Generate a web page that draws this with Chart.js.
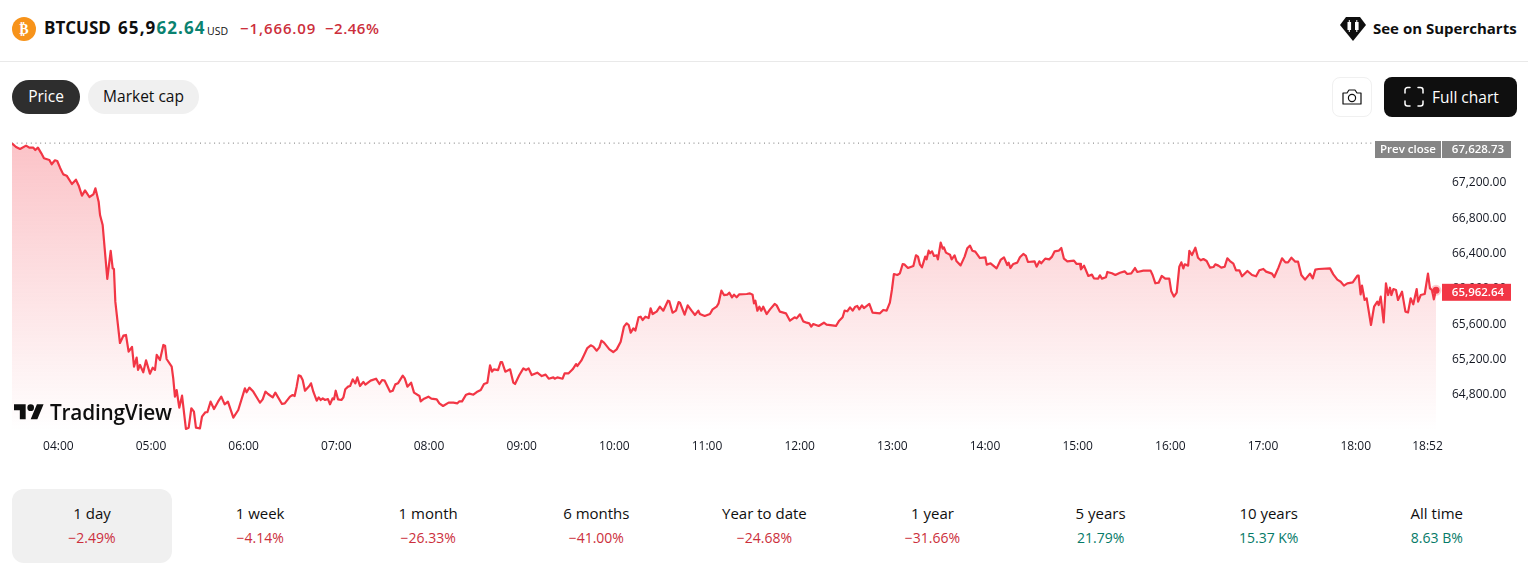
<!DOCTYPE html>
<html><head><meta charset="utf-8"><title>BTCUSD</title>
<script src="https://cdn.jsdelivr.net/npm/chart.js@4"></script>
<style>
html,body{margin:0;padding:0;background:#fff;width:1528px;height:579px;overflow:hidden;font-family:"Open Sans","Noto Sans",sans-serif;color:#0f0f0f}
.a{position:absolute;white-space:nowrap}
canvas{position:absolute;left:0;top:130px}
.tab{position:absolute;top:489px;width:160px;height:74px;border-radius:12px;text-align:center}
.tab .n{position:absolute;left:0;right:0;top:14px;font-size:15px;line-height:20px}
.tab .p{position:absolute;left:0;right:0;top:39px;font-size:14px;line-height:19px}
.r{color:#cc2f3c}.g{color:#067a68}
</style></head><body>
<svg class="a" style="left:12px;top:17px" width="24" height="24"><circle cx="12" cy="12" r="12" fill="#f7931a"/><text x="12" y="17" text-anchor="middle" fill="#fff" font-size="14" font-weight="700" font-family="DejaVu Sans">₿</text></svg>
<div class="a" style="left:44px;top:16px;font-size:17px;line-height:24px;font-weight:700">BTCUSD</div>
<div class="a" style="left:118px;top:16px;font-size:17px;line-height:24px;font-weight:700;letter-spacing:1.1px">65,9<span style="color:#0a8270">62.64</span></div>
<div class="a" style="left:207px;top:23px;font-size:10.5px;line-height:16px">USD</div>
<div class="a r" style="left:240px;top:17px;font-size:15px;line-height:22px;font-weight:600;letter-spacing:.9px">−1,666.09</div>
<div class="a r" style="left:325px;top:17px;font-size:15px;line-height:22px;font-weight:600;letter-spacing:.5px">−2.46%</div>
<svg class="a" style="left:1340px;top:17px" width="26" height="24" viewBox="0 0 26 24"><path d="M6 0h14l6 8-13 16L0 8z" fill="#0f0f0f"/><path d="M7.500 5h1.300V3h1v2h1.300v8H9.800v2h-1v-2H7.500zM15 5h1.300V3h1v2h1.300v8h-1.300v2h-1v-2H15z" fill="#fff"/></svg>
<div class="a" style="left:1373px;top:16px;font-size:15px;line-height:24px;font-weight:700">See on Supercharts</div>
<div class="a" style="left:0;top:61px;width:1528px;height:1px;background:#e9e9e9"></div>
<div class="a" style="left:12px;top:80px;width:68px;height:34px;border-radius:17px;background:#2e2e2e;color:#fff;font-size:15.5px;line-height:33px;text-align:center">Price</div>
<div class="a" style="left:88px;top:80px;width:111px;height:34px;border-radius:17px;background:#f0f0f0;font-size:15.5px;line-height:33px;text-align:center">Market cap</div>
<div class="a" style="left:1332px;top:77px;width:38px;height:38px;border:1px solid #f0f0f0;border-radius:8px"></div>
<svg class="a" style="left:1341px;top:87px" width="22" height="20" fill="none" stroke="#0f0f0f" stroke-width="1.2"><path d="M2 6h4l2-3h6l2 3h4v11H2z" stroke-linejoin="round"/><circle cx="11" cy="11" r="3.6"/></svg>
<div class="a" style="left:1384px;top:77px;width:133px;height:40px;border-radius:8px;background:#0f0f0f"></div>
<svg class="a" style="left:1403px;top:86px" width="22" height="22" fill="none" stroke="#fff" stroke-width="1.5" stroke-linecap="round"><path d="M2 7V4a2.500 2.500 0 0 1 2.500-2.500H7M15 1.500h2.500A2.500 2.500 0 0 1 20 4v3M20 15v2.500a2.500 2.500 0 0 1-2.500 2.500H15M7 20H4.500A2.500 2.500 0 0 1 2 17.500V15"/></svg>
<div class="a" style="left:1432px;top:85px;color:#fff;font-size:15.5px;line-height:24px">Full chart</div>
<canvas id="c" width="1528" height="330"></canvas>
<svg class="a" style="left:14px;top:400.700px" width="30" height="22" viewBox="0 0 36 26.400"><path d="M14 22H7V11H0V4h14v18zM28 22h-8l7.500-18h8L28 22z" fill="#0f0f0f"/><circle cx="20" cy="8" r="4" fill="#0f0f0f"/></svg>
<div class="a" style="left:50px;top:398px;font-size:20.800px;line-height:28px;font-weight:600;letter-spacing:-.2px;color:#0f0f0f">TradingView</div>
<div id="tabs"></div>
<script>
const times=[210,212.6,215.2,219.1,221.2,223.8,225.1,226.8,229,230.7,234.2,235.7,237.8,239.3,241.1,243.2,245.4,248.8,251.4,253.2,255.3,257.3,260.1,262.7,264,266.1,267,268.7,270,271.7,273.9,275.2,276,276.9,279.9,282.1,283.8,285.5,287.7,289,290.7,291.6,292.9,295,296.8,299.3,301.1,302.6,303.7,305.8,308,309.1,310.1,313.4,314.4,315.5,316.6,318.3,320.1,322.6,324.4,326.1,327.8,329.1,331.7,333,335.2,336.5,338.6,340.8,343.4,345.5,347.7,349.8,353.3,356.5,360.8,361.9,363.7,366.2,369.5,
370.6,372.3,374.1,375.8,378.8,380.5,384.8,386.6,390,391.7,393,394.3,395.6,396.9,398.2,399.7,402.5,403.6,405.1,407.3,408.6,409.9,411.2,412.7,414.6,415.9,417.6,418.5,419.6,421.1,423.3,424.6,425.8,427.6,428.9,430.6,432.3,433.6,435.3,437.5,438.8,442.2,445.7,447.9,449.6,451.3,454.8,456.5,458.2,459.9,463,464.3,466,468.4,470.3,473.8,474.6,476.8,479.6,481.5,485,486.7,489.1,492.7,495.8,498.4,499.7,501.4,504,506.1,508.7,510.9,513.5,515.6,517.8,519.5,520.8,522.1,524.7,526.4,527.3,529.4,532.5,534.6,535.7,538.5,541.1,542.8,544.5,546.5,550.1,553,555.5,557.5,560.5,561.4,563.1,566.5,567.8,570.4,573,575.2,576,578.6,580.4,582.5,584.7,586.4,588.6,590.3,591.6,593.3,596.8,
599.3,601.5,604.1,606.2,608,609.3,610.6,612.3,613.6,615.7,617,618.3,620.1,622.2,623.5,624.8,626.1,627.4,629.5,631.7,634.7,635.6,637.7,639.9,641.6,642.5,645.5,647.5,650,652.2,654.4,655.4,658.5,661.9,663.6,666.2,667.5,669.3,671,673.1,674.4,676.2,677.5,679.2,680.9,685.7,687.8,689.5,690.4,691.3,692.6,693.9,695.1,696.4,698.6,700.8,703.8,705.1,707.2,711.1,713.7,716.7,718,720.2,722.3,724.5,726.2,727.5,728.8,732.3,735.7,737.4,743.5,745.6,747.8,749.1,750.8,752.6,754.3,756,757.3,758.6,760.3,761.6,765.1,767.2,772,774.1,776.3,778.4,779.7,781,783.2,784.9,
786.7,788,790.1,793.6,795.3,796.6,797.9,799.2,801.3,802.2,803.5,804.4,805.7,807,808.7,809.5,811.3,812.6,813.4,814.7,817.3,818.4,820.3,821.6,824.2,826.8,828.5,830.3,831.8,833.7,836.7,840.2,841.1,843.6,847.5,850.1,852.3,854.4,855.3,856.4,858.3,860.9,862.6,864.8,866.5,867.8,872.1,873.4,875.2,876.4,879,881.6,883.4,885.1,887.7,889.4,891.1,893.3,897.6,899.3,901.5,902.1,904.1,906.9,909.2,910.5,913.3,914.4,915.7,918.3,919.2,922.2,924.4,927.4,930.4,932.1,934.7,937.1,938.6,942.5,947.2,948.5,950.3,952.4,954.4,956.7,959.3,960.6,962.3,964.1,
965.8,967.1,968.4,969.3,971.5,972.3,974,976.2,977.9,979.7,981.4,983.5,985.7,987.9,989.1,991.1,993,995.2,996.9,998.6,1000.8,1002.5,1004.7,1006.4,1009.9,1012.9,1015.5,1017.6,1020.2,1022,1025.8,1027.3,1030,1032.3,1034.5,1036.2,1038.4,1040.9,1042.7,1044.8,1047.2,1050.4,1052.2,1053.9,1056,1063.4,1065.5,1068.1,1070.3,1072.4,1074.6,1078.1,1081.1,1081.9,1083.2,1084.1,1085.8,1087.1,1089.9,1091.9,1094,1094.9,1096.2,1098.1,1099.6,1101,1102.2,1103.1,1104.4,1106.1,1107.4,1110,1112.2,1113.9,1115.6,1117.3,1119.5,1120.4,1122.1,1124.7,1126.8,1128.1,1129.4,1130.6,1132];
const prices=[67625,67585,67562,67600,67577,67577,67551,67577,67513,67457,67438,67389,67434,67426,67351,67275,67260,67166,67215,67147,67034,67094,67019,67049,67117,66966,66815,66702,66438,66091,66408,66212,66204,65834,65366,65449,65457,65268,65321,65098,65200,65061,65117,65034,65170,65019,65087,65061,65231,65174,65344,65336,65185,65098,64966,64759,64834,64634,64770,64393,64408,64627,64589,64408,64400,64532,64582,64582,64702,64619,64702,64759,64672,64702,64521,64608,64853,64808,64861,64816,64721,
64691,64728,64815,64789,64751,64804,64676,64683,64759,64777,64766,64872,65000,64993,64947,64826,64879,64910,64815,64713,64751,64721,64740,64721,64732,64672,64740,64728,64826,64728,64721,64751,64842,64872,64879,64955,64910,64977,64879,64925,64894,64940,64962,64902,64947,64940,64815,64826,64898,64910,64996,64966,64872,64917,64804,64766,64706,64736,64759,64736,64728,64683,64653,64691,64691,64683,64706,64706,64781,64793,64781,64811,64834,64902,64917,65113,65042,65068,65060,65151,65151,65042,65068,64917,64902,65004,65079,65060,65079,65004,65030,64992,65008,64962,64977,64962,64977,64962,65023,65023,65068,65128,65106,65166,65230,65309,65340,65325,65279,65317,65392,65370,65294,
65264,65294,65381,65551,65589,65570,65483,65532,65506,65657,65664,65626,65664,65649,65759,65694,65709,65721,65777,65732,65845,65838,65709,65732,65830,65823,65687,65792,65732,65683,65732,65694,65672,65694,65747,65777,65815,65959,65909,65913,65936,65883,65913,65883,65917,65921,65928,65913,65815,65845,65732,65777,65732,65777,65694,65747,65808,65792,65721,65702,65619,65657,65645,65691,65611,65596,65589,65551,65581,65559,65596,65574,65559,65619,65657,65732,65725,65770,65732,65777,65785,65747,65792,65762,65808,65709,65702,65740,65732,65823,65966,66147,66136,66155,
66260,66253,66215,66238,66359,66344,66253,66223,66344,66313,66411,66381,66404,66351,66359,66313,66502,66434,66449,66389,66366,66313,66359,66291,66245,66344,66438,66468,66411,66400,66328,66336,66253,66268,66211,66306,66336,66249,66276,66215,66261,66276,66336,66374,66351,66283,66291,66230,66291,66268,66321,66313,66344,66404,66411,66442,66321,66291,66298,66261,66261,66200,66242,66125,66140,66098,66095,66132,66095,66110,66170,66155,66136,66162,66177,66147,66155,66215,66170,66185,66185,66136,66042,66049,66125,66095,66095,65951,65891,65936,
66230,66279,66211,66257,66242,66408,66362,66445,66332,66302,66317,66294,66219,66226,66257,66242,66219,66230,66325,66294,66264,66189,66189,66121,66181,66136,66121,66189,66204,66174,66151,66113,66219,66325,66279,66279,66332,66287,66287,66136,66083,66151,66098,66196,66204,66211,66143,66083,66060,66015,66041,66053,66128,66128,65917,66015,65853,65872,65570,65777,65834,65796,65891,65600,66041,65909,65992,65909,65977,65966,65853,65947,65721,65713,65872,65804,65977,65834,65909,65921,66151,65985,65966,65860,65962.64];
const prevClose=67628.73;
const lastPrice=65962.64;
const xTickValues=[240,300,360,420,480,540,600,660,720,780,840,900,960,1020,1080,1126.5];
const xTickLabels=["04:00","05:00","06:00","07:00","08:00","09:00","10:00","11:00","12:00","13:00","14:00","15:00","16:00","17:00","18:00","18:52"];
const yTickValues=[64800,65200,65600,66000,66400,66800,67200];
const periods=["1 day","1 week","1 month","6 months","Year to date","1 year","5 years","10 years","All time"];
const changes=["−2.49%","−4.14%","−26.33%","−41.00%","−24.68%","−31.66%","21.79%","15.37 K%","8.63 B%"];

const tabs=document.getElementById('tabs');
periods.forEach((n,i)=>{const d=document.createElement('div');d.className='tab';d.style.left=(12+i*168.1)+'px';
 if(i===0)d.style.background='#f0f0f0';
 d.innerHTML='<div class="n">'+n+'</div><div class="p '+(changes[i][0]==='−'?'r':'g')+'">'+changes[i]+'</div>';tabs.appendChild(d);});

const fmt=v=>v.toLocaleString('en-US',{minimumFractionDigits:2,maximumFractionDigits:2});
const RED='#f23645';
const tags={id:'tags',afterDraw(ch){const c=ch.ctx,y=ch.scales.y;
 const tag=(x,w,cy,col,t)=>{c.fillStyle=col;c.fillRect(x,cy-8.5,w,17);c.fillStyle='#fff';c.font='600 11.5px "Open Sans"';c.textAlign='center';c.textBaseline='middle';c.fillText(t,x+w/2+(w===69?1.5:0),cy+.5);};
 const py=y.getPixelForValue(prevClose)+6.4;
 tag(1375,66,py,'#858585','Prev close');
 tag(1442,69,py,'#858585',fmt(prevClose));
 tag(1442,69,y.getPixelForValue(lastPrice)+2,RED,fmt(lastPrice));
}};
new Chart(document.getElementById('c'),{type:'line',
 data:{datasets:[
  {label:'Prev close',data:[{x:times[0],y:prevClose},{x:times[times.length-1]-38,y:prevClose}],borderColor:'#777',borderWidth:1,borderDash:[1,3.7],pointRadius:0,order:3,fill:false},
  {label:'BTCUSD',data:times.map((t,i)=>({x:t,y:prices[i]})),borderColor:RED,borderWidth:2.2,pointRadius:0,tension:0,fill:'start',order:2,borderJoinStyle:'round',
   backgroundColor(ctx){const a=ctx.chart.chartArea;if(!a)return 'transparent';const g=ctx.chart.ctx.createLinearGradient(0,a.top,0,a.bottom);g.addColorStop(0,'rgba(242,54,69,.30)');g.addColorStop(1,'rgba(242,54,69,0)');return g;}},
  {label:'Last',data:[{x:times[times.length-1],y:lastPrice}],pointRadius:3.5,pointBackgroundColor:RED,pointBorderColor:'rgba(242,54,69,.25)',pointBorderWidth:4,showLine:false,order:1,clip:false}
 ]},
 options:{responsive:false,animation:false,events:[],
  layout:{padding:{left:12,top:10,right:0,bottom:0}},
  plugins:{legend:{display:false},tooltip:{enabled:false}},
  scales:{
   x:{type:'linear',min:210,max:1132,grid:{display:false,drawTicks:false},border:{display:false},
    afterBuildTicks:s=>{s.ticks=xTickValues.map(v=>({value:v}));},
    afterFit:s=>{s.height=29;s.paddingLeft=0;s.paddingRight=0;},
    ticks:{autoSkip:false,maxRotation:0,padding:8,color:'#131722',font:{family:'"Open Sans"',size:12},callback:(v,i)=>xTickLabels[i]}},
   y:{position:'right',min:64370,max:67664,grid:{display:false,drawTicks:false},border:{display:false},
    afterBuildTicks:s=>{s.ticks=yTickValues.map(v=>({value:v}));},
    afterFit:s=>{s.width=92;s.paddingTop=0;s.paddingBottom=0;},
    ticks:{padding:16,labelOffset:2,crossAlign:'near',color:'#131722',font:{family:'"Open Sans"',size:12},callback:v=>fmt(v)}}
  }},
 plugins:[tags]});
</script>
</body></html>
